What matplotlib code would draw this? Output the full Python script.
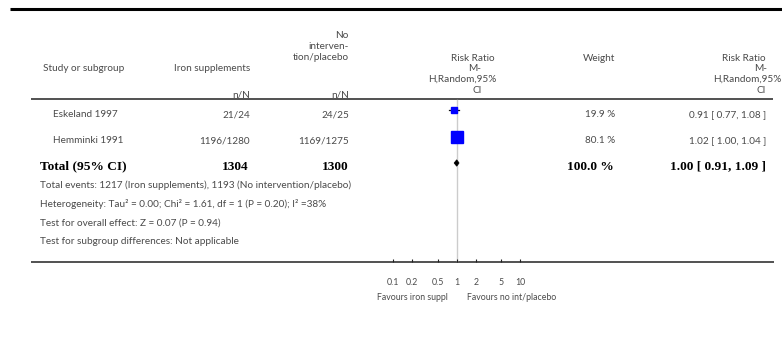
import numpy as np
import matplotlib
matplotlib.use("Agg")
import matplotlib.pyplot as plt
from matplotlib.patches import Polygon

# ---- data -------------------------------------------------------------
studies = ["Eskeland 1997", "Hemminki 1991"]
iron_nN = ["21/24", "1196/1280"]
ctrl_nN = ["24/25", "1169/1275"]
rr = [0.91, 1.02]
rr_lo = [0.77, 1.00]
rr_hi = [1.08, 1.04]
weights = [19.9, 80.1]

total_iron = 1304
total_ctrl = 1300
pooled_rr, pooled_lo, pooled_hi = 1.00, 0.91, 1.09
total_weight = 100.0

footer_lines = [
    "Total events: 1217 (Iron supplements), 1193 (No intervention/placebo)",
    "Heterogeneity: Tau\u00b2 = 0.00; Chi\u00b2 = 1.61, df = 1 (P = 0.20); I\u00b2 =38%",
    "Test for overall effect: Z = 0.07 (P = 0.94)",
    "Test for subgroup differences: Not applicable",
]
tick_values = [0.1, 0.2, 0.5, 1, 2, 5, 10]
tick_labels = ["0.1", "0.2", "0.5", "1", "2", "5", "10"]
favours_left = "Favours iron suppl"
favours_right = "Favours no int/placebo"

# ---- layout (pixel units) ----------------------------------------------
W, H = 782, 339
SANS = "Lato"
SERIF = "Liberation Serif"
GREY = "#4a4a4a"
FS = 7.2          # regular text size (pt)
FS_SMALL = 6.3    # axis labels (pt)
FS_B = 9.6        # bold total row (pt)

fig = plt.figure(figsize=(W / 100, H / 100), dpi=100)
ax = fig.add_axes([0, 0, 1, 1])
ax.set_xlim(0, W)
ax.set_ylim(H, 0)
ax.axis("off")


def txt(x, y, s, ha="left", size=FS, family=SANS, weight="normal", color=GREY):
    ax.text(x, y, s, ha=ha, va="baseline", fontsize=size, family=family,
            weight=weight, color=color)


# rules
ax.plot([10, W], [9.3, 9.3], color="black", lw=2.2, solid_capstyle="butt")
ax.plot([31, 773], [99.3, 99.3], color="#222222", lw=1.1, solid_capstyle="butt")
ax.plot([31, 774], [262.3, 262.3], color="#222222", lw=1.1, solid_capstyle="butt")

# column headers
txt(43, 71, "Study or subgroup")
txt(250, 71, "Iron supplements", ha="right")
txt(349, 38, "No", ha="right")
txt(349, 49, "interven-", ha="right")
txt(349, 60, "tion/placebo", ha="right")
txt(250, 97.5, "n/N", ha="right")
txt(349, 97.5, "n/N", ha="right")

txt(495, 61, "Risk Ratio", ha="right")
txt(481, 71, "M-", ha="right")
txt(428, 82, "H,Random,95%")
txt(482, 93, "CI", ha="right")

txt(615, 61, "Weight", ha="right")

txt(766, 61, "Risk Ratio", ha="right")
txt(767, 71, "M-", ha="right")
txt(713, 82, "H,Random,95%")
txt(766, 93, "CI", ha="right")

# study rows
row_base = [117, 143]
for i, name in enumerate(studies):
    y = row_base[i]
    txt(53, y, name)
    txt(250, y, iron_nN[i], ha="right")
    txt(349, y, ctrl_nN[i], ha="right")
    txt(615, y, f"{weights[i]:.1f} %", ha="right")
    txt(766, y, f"{rr[i]:.2f} [ {rr_lo[i]:.2f}, {rr_hi[i]:.2f} ]", ha="right")

# total row
yt = 169.5
txt(40, yt, "Total (95% CI)", size=FS_B, family=SERIF, weight="bold", color="black")
txt(249, yt, f"{total_iron}", ha="right", size=FS_B, family=SERIF, weight="bold", color="black")
txt(349, yt, f"{total_ctrl}", ha="right", size=FS_B, family=SERIF, weight="bold", color="black")
txt(614, yt, f"{total_weight:.1f} %", ha="right", size=FS_B, family=SERIF, weight="bold", color="black")
txt(766, yt, f"{pooled_rr:.2f} [ {pooled_lo:.2f}, {pooled_hi:.2f} ]", ha="right",
    size=FS_B, family=SERIF, weight="bold", color="black")

# footer notes
for k, line in enumerate(footer_lines):
    txt(40, 188.3 + 18.4 * k, line)

# ---- forest panel (log scale) -----------------------------------------
x_lo_px, x_hi_px = 393.1, 520.3
axis_y = 262.3
fx = fig.add_axes([x_lo_px / W, (H - axis_y) / H, (x_hi_px - x_lo_px) / W, axis_y / H])
fx.set_xscale("log")
fx.set_xlim(0.1, 10)
fx.set_ylim(axis_y, 0)
fx.patch.set_visible(False)
for sp in fx.spines.values():
    sp.set_visible(False)
fx.set_yticks([])
fx.set_xticks(tick_values)
fx.set_xticklabels(tick_labels, fontsize=FS_SMALL, family=SANS, color=GREY)
fx.xaxis.set_minor_locator(matplotlib.ticker.NullLocator())
fx.tick_params(axis="x", direction="in", length=2.5, width=0.8, color="#222222", pad=11)

# line of no effect
fx.plot([1, 1], [99.5, axis_y], color="#cccccc", lw=1.0, zorder=1)

# study estimates: squares sized by weight
mark_y = [110, 137]
max_side_pt = 8.0
for i in range(len(studies)):
    fx.plot([rr_lo[i], rr_hi[i]], [mark_y[i], mark_y[i]], color="#111111", lw=0.9, zorder=2)
    side = max_side_pt * np.sqrt(weights[i] / max(weights))
    fx.plot([rr[i]], [mark_y[i]], marker="s", markersize=side, color="#0000ff",
            markeredgecolor="#0000ff", zorder=3)

# pooled diamond
yd = 163
diamond = Polygon([[pooled_lo, yd], [pooled_rr, yd - 3.2], [pooled_hi, yd], [pooled_rr, yd + 3.2]],
                  closed=True, facecolor="black", edgecolor="black", lw=0.5, zorder=3)
fx.add_patch(diamond)

# favours labels
txt(448, 300, favours_left, ha="right", size=FS_SMALL)
txt(467, 300, favours_right, size=FS_SMALL)

fig.savefig("out.png", dpi=100)
